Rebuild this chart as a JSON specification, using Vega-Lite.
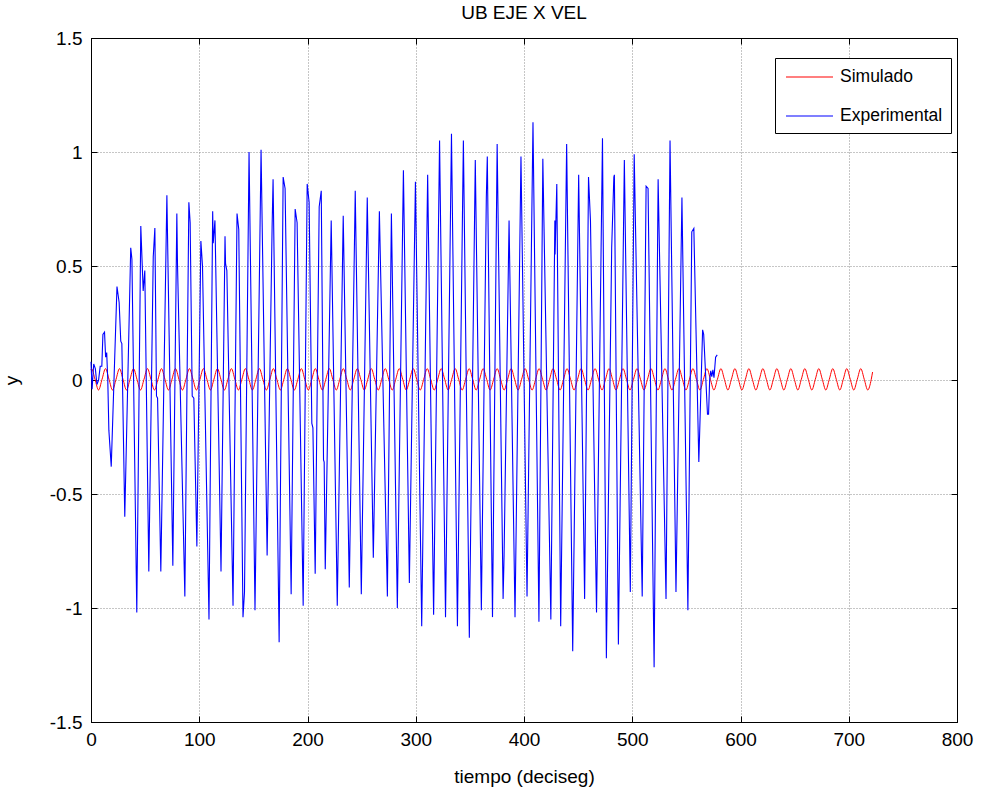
{
"$schema": "https://vega.github.io/schema/vega-lite/v6.json",
"width": 866, "height": 684,
"autosize": {"type": "none"},
"padding": {"left": 91, "top": 38, "right": 24, "bottom": 71},
"background": "white",
"title": {"text": "UB EJE X VEL", "fontSize": 19, "fontWeight": "normal", "font": "Liberation Sans", "color": "black", "offset": 6},
"config": {
  "view": {"stroke": "black", "strokeWidth": 1},
  "axis": {"labelFont": "Liberation Sans", "labelFontSize": 19, "labelColor": "black", "titleFont": "Liberation Sans", "titleFontSize": 19, "titleFontWeight": "normal", "titleColor": "black", "domainColor": "black", "tickColor": "black", "tickSize": -6, "gridColor": "#8c8c8c", "gridDash": [1, 2], "gridOpacity": 1, "gridWidth": 1},
  "legend": {"labelFont": "Liberation Sans", "labelFontSize": 17.5, "labelColor": "black"}
},
"datasets": {
"sim": [
{"t":0,"v":0.045},{"t":0.5,"v":0.05},{"t":3.73,"v":0.003},{"t":6.96,"v":-0.044},{"t":10.19,"v":0.003},
{"t":13.42,"v":0.05},{"t":16.65,"v":0.003},{"t":19.88,"v":-0.044},{"t":23.11,"v":0.003},
{"t":26.34,"v":0.05},{"t":29.57,"v":0.003},{"t":32.8,"v":-0.044},{"t":36.03,"v":0.003},
{"t":39.26,"v":0.05},{"t":42.49,"v":0.003},{"t":45.72,"v":-0.044},{"t":48.95,"v":0.003},
{"t":52.18,"v":0.05},{"t":55.41,"v":0.003},{"t":58.64,"v":-0.044},{"t":61.87,"v":0.003},
{"t":65.1,"v":0.05},{"t":68.33,"v":0.003},{"t":71.56,"v":-0.044},{"t":74.79,"v":0.003},
{"t":78.02,"v":0.05},{"t":81.25,"v":0.003},{"t":84.48,"v":-0.044},{"t":87.71,"v":0.003},
{"t":90.94,"v":0.05},{"t":94.17,"v":0.003},{"t":97.4,"v":-0.044},{"t":100.63,"v":0.003},
{"t":103.86,"v":0.05},{"t":107.09,"v":0.003},{"t":110.32,"v":-0.044},{"t":113.55,"v":0.003},
{"t":116.78,"v":0.05},{"t":120.01,"v":0.003},{"t":123.24,"v":-0.044},{"t":126.47,"v":0.003},
{"t":129.7,"v":0.05},{"t":132.93,"v":0.003},{"t":136.16,"v":-0.044},{"t":139.39,"v":0.003},
{"t":142.62,"v":0.05},{"t":145.85,"v":0.003},{"t":149.08,"v":-0.044},{"t":152.31,"v":0.003},
{"t":155.54,"v":0.05},{"t":158.77,"v":0.003},{"t":162.0,"v":-0.044},{"t":165.23,"v":0.003},
{"t":168.46,"v":0.05},{"t":171.69,"v":0.003},{"t":174.92,"v":-0.044},{"t":178.15,"v":0.003},
{"t":181.38,"v":0.05},{"t":184.61,"v":0.003},{"t":187.84,"v":-0.044},{"t":191.07,"v":0.003},
{"t":194.3,"v":0.05},{"t":197.53,"v":0.003},{"t":200.76,"v":-0.044},{"t":203.99,"v":0.003},
{"t":207.22,"v":0.05},{"t":210.45,"v":0.003},{"t":213.68,"v":-0.044},{"t":216.91,"v":0.003},
{"t":220.14,"v":0.05},{"t":223.37,"v":0.003},{"t":226.6,"v":-0.044},{"t":229.83,"v":0.003},
{"t":233.06,"v":0.05},{"t":236.29,"v":0.003},{"t":239.52,"v":-0.044},{"t":242.75,"v":0.003},
{"t":245.98,"v":0.05},{"t":249.21,"v":0.003},{"t":252.44,"v":-0.044},{"t":255.67,"v":0.003},
{"t":258.9,"v":0.05},{"t":262.13,"v":0.003},{"t":265.36,"v":-0.044},{"t":268.59,"v":0.003},
{"t":271.82,"v":0.05},{"t":275.05,"v":0.003},{"t":278.28,"v":-0.044},{"t":281.51,"v":0.003},
{"t":284.74,"v":0.05},{"t":287.97,"v":0.003},{"t":291.2,"v":-0.044},{"t":294.43,"v":0.003},
{"t":297.66,"v":0.05},{"t":300.89,"v":0.003},{"t":304.12,"v":-0.044},{"t":307.35,"v":0.003},
{"t":310.58,"v":0.05},{"t":313.81,"v":0.003},{"t":317.04,"v":-0.044},{"t":320.27,"v":0.003},
{"t":323.5,"v":0.05},{"t":326.73,"v":0.003},{"t":329.96,"v":-0.044},{"t":333.19,"v":0.003},
{"t":336.42,"v":0.05},{"t":339.65,"v":0.003},{"t":342.88,"v":-0.044},{"t":346.11,"v":0.003},
{"t":349.34,"v":0.05},{"t":352.57,"v":0.003},{"t":355.8,"v":-0.044},{"t":359.03,"v":0.003},
{"t":362.26,"v":0.05},{"t":365.49,"v":0.003},{"t":368.72,"v":-0.044},{"t":371.95,"v":0.003},
{"t":375.18,"v":0.05},{"t":378.41,"v":0.003},{"t":381.64,"v":-0.044},{"t":384.87,"v":0.003},
{"t":388.1,"v":0.05},{"t":391.33,"v":0.003},{"t":394.56,"v":-0.044},{"t":397.79,"v":0.003},
{"t":401.02,"v":0.05},{"t":404.25,"v":0.003},{"t":407.48,"v":-0.044},{"t":410.71,"v":0.003},
{"t":413.94,"v":0.05},{"t":417.17,"v":0.003},{"t":420.4,"v":-0.044},{"t":423.63,"v":0.003},
{"t":426.86,"v":0.05},{"t":430.09,"v":0.003},{"t":433.32,"v":-0.044},{"t":436.55,"v":0.003},
{"t":439.78,"v":0.05},{"t":443.01,"v":0.003},{"t":446.24,"v":-0.044},{"t":449.47,"v":0.003},
{"t":452.7,"v":0.05},{"t":455.93,"v":0.003},{"t":459.16,"v":-0.044},{"t":462.39,"v":0.003},
{"t":465.62,"v":0.05},{"t":468.85,"v":0.003},{"t":472.08,"v":-0.044},{"t":475.31,"v":0.003},
{"t":478.54,"v":0.05},{"t":481.77,"v":0.003},{"t":485.0,"v":-0.044},{"t":488.23,"v":0.003},
{"t":491.46,"v":0.05},{"t":494.69,"v":0.003},{"t":497.92,"v":-0.044},{"t":501.15,"v":0.003},
{"t":504.38,"v":0.05},{"t":507.61,"v":0.003},{"t":510.84,"v":-0.044},{"t":514.07,"v":0.003},
{"t":517.3,"v":0.05},{"t":520.53,"v":0.003},{"t":523.76,"v":-0.044},{"t":526.99,"v":0.003},
{"t":530.22,"v":0.05},{"t":533.45,"v":0.003},{"t":536.68,"v":-0.044},{"t":539.91,"v":0.003},
{"t":543.14,"v":0.05},{"t":546.37,"v":0.003},{"t":549.6,"v":-0.044},{"t":552.83,"v":0.003},
{"t":556.06,"v":0.05},{"t":559.29,"v":0.003},{"t":562.52,"v":-0.044},{"t":565.75,"v":0.003},
{"t":568.98,"v":0.05},{"t":572.21,"v":0.003},{"t":575.44,"v":-0.044},{"t":578.67,"v":0.003},
{"t":581.9,"v":0.05},{"t":585.13,"v":0.003},{"t":588.36,"v":-0.044},{"t":591.59,"v":0.003},
{"t":594.82,"v":0.05},{"t":598.05,"v":0.003},{"t":601.28,"v":-0.044},{"t":604.51,"v":0.003},
{"t":607.74,"v":0.05},{"t":610.97,"v":0.003},{"t":614.2,"v":-0.044},{"t":617.43,"v":0.003},
{"t":620.66,"v":0.05},{"t":623.89,"v":0.003},{"t":627.12,"v":-0.044},{"t":630.35,"v":0.003},
{"t":633.58,"v":0.05},{"t":636.81,"v":0.003},{"t":640.04,"v":-0.044},{"t":643.27,"v":0.003},
{"t":646.5,"v":0.05},{"t":649.73,"v":0.003},{"t":652.96,"v":-0.044},{"t":656.19,"v":0.003},
{"t":659.42,"v":0.05},{"t":662.65,"v":0.003},{"t":665.88,"v":-0.044},{"t":669.11,"v":0.003},
{"t":672.34,"v":0.05},{"t":675.57,"v":0.003},{"t":678.8,"v":-0.044},{"t":682.03,"v":0.003},
{"t":685.26,"v":0.05},{"t":688.49,"v":0.003},{"t":691.72,"v":-0.044},{"t":694.95,"v":0.003},
{"t":698.18,"v":0.05},{"t":701.41,"v":0.003},{"t":704.64,"v":-0.044},{"t":707.87,"v":0.003},
{"t":711.1,"v":0.05},{"t":714.33,"v":0.003},{"t":717.56,"v":-0.044},{"t":720.79,"v":0.003},
{"t":722,"v":0.035}
],
"exp": [
{"t":0,"v":0.08},{"t":1,"v":-0.04},{"t":2.5,"v":0.07},{"t":4,"v":0.05},{"t":5.5,"v":-0.02},{"t":7,"v":0.0},{"t":8.5,"v":0.06},{"t":10,"v":0.06},{"t":11,"v":0.2},{"t":12.5,"v":0.21},{"t":13.5,"v":0.1},{"t":14.5,"v":0.12},{"t":15.5,"v":0.0},{"t":16.5,"v":-0.22},{"t":18.7,"v":-0.38},
{"t":24,"v":0.41},{"t":26,"v":0.34},{"t":27.5,"v":0.17},{"t":28.5,"v":0.16},{"t":31.2,"v":-0.6},
{"t":36.7,"v":0.58},{"t":37.8,"v":0.53},{"t":42.3,"v":-1.02},
{"t":46,"v":0.675},{"t":48.2,"v":0.39},{"t":49.7,"v":0.48},{"t":53.4,"v":-0.84},
{"t":57.5,"v":0.54},{"t":59,"v":0.667},{"t":60.5,"v":-0.07},{"t":61.5,"v":-0.08},{"t":64.5,"v":-0.84},
{"t":70.1,"v":0.81},{"t":75.6,"v":-0.815},
{"t":79.3,"v":0.73},{"t":79.9,"v":0.51},{"t":86.7,"v":-0.95},
{"t":90.4,"v":0.78},{"t":91.6,"v":0.69},{"t":93.5,"v":-0.07},{"t":95,"v":-0.08},{"t":97.8,"v":-0.73},
{"t":101.5,"v":0.61},{"t":103,"v":0.5},{"t":109,"v":-1.05},
{"t":112.4,"v":0.74},{"t":112.9,"v":0.6},{"t":114.5,"v":0.7},{"t":120.1,"v":-0.84},
{"t":123.8,"v":0.63},{"t":124.3,"v":0.51},{"t":125.5,"v":0.48},{"t":131.2,"v":-0.99},
{"t":134.9,"v":0.73},{"t":136.5,"v":0.66},{"t":140.4,"v":-1.04},{"t":141.8,"v":-0.93},
{"t":146,"v":1.0},{"t":151.5,"v":-1.01},{"t":157.1,"v":1.01},{"t":162.7,"v":-0.77},
{"t":167.3,"v":0.67},{"t":168.2,"v":0.88},{"t":173.8,"v":-1.15},
{"t":177.5,"v":0.89},{"t":179.3,"v":0.84},{"t":184.9,"v":-0.94},
{"t":188.6,"v":0.75},{"t":190.4,"v":0.69},{"t":196,"v":-0.99},
{"t":199.7,"v":0.86},{"t":201.5,"v":0.78},{"t":204,"v":-0.19},{"t":205,"v":-0.21},{"t":207.1,"v":-0.85},
{"t":210.8,"v":0.76},{"t":212.7,"v":0.83},{"t":214.8,"v":-0.35},{"t":215.4,"v":-0.36},{"t":216.4,"v":-0.83},
{"t":221.9,"v":0.7},{"t":227.5,"v":-0.99},{"t":233,"v":0.72},{"t":238.6,"v":-0.91},
{"t":244.1,"v":0.83},{"t":249.7,"v":-0.94},{"t":255.2,"v":0.8},{"t":260.8,"v":-0.78},
{"t":266.4,"v":0.74},{"t":273.8,"v":-0.95},{"t":277.5,"v":0.73},{"t":283,"v":-1.0},
{"t":288.6,"v":0.92},{"t":294.1,"v":-0.89},{"t":299.7,"v":0.87},{"t":305.5,"v":-1.08},
{"t":311,"v":0.9},{"t":316.5,"v":-1.03},{"t":322,"v":1.05},{"t":327.5,"v":-1.04},
{"t":333,"v":1.08},{"t":338.5,"v":-1.08},{"t":344,"v":1.05},{"t":349.5,"v":-1.13},
{"t":355,"v":0.965},{"t":360.6,"v":-1.01},{"t":365.2,"v":0.8},{"t":366.1,"v":0.98},{"t":370.9,"v":-1.04},
{"t":375.2,"v":1.035},{"t":380.7,"v":-0.96},{"t":381.6,"v":-0.77},{"t":386.2,"v":0.7},{"t":391.7,"v":-1.04},
{"t":397.2,"v":0.98},{"t":402.8,"v":-0.95},{"t":408.3,"v":1.13},{"t":413.8,"v":-1.06},
{"t":417.4,"v":0.97},{"t":424.8,"v":-1.05},{"t":428.5,"v":0.7},{"t":428.7,"v":0.55},{"t":430.3,"v":0.86},{"t":433.9,"v":-1.08},
{"t":439.4,"v":1.035},{"t":445,"v":-1.19},{"t":450.5,"v":0.9},{"t":456,"v":-0.96},
{"t":459.6,"v":0.89},{"t":461.4,"v":0.7},{"t":467,"v":-1.02},{"t":472.5,"v":1.06},{"t":476.1,"v":-1.22},
{"t":481,"v":0.58},{"t":483,"v":0.89},{"t":483.5,"v":0.9},{"t":487.2,"v":-1.16},
{"t":492.7,"v":0.965},{"t":498.2,"v":-0.93},{"t":501.8,"v":0.99},{"t":509.2,"v":-0.95},
{"t":512.8,"v":0.85},{"t":514.6,"v":0.84},{"t":520.2,"v":-1.26},{"t":523.9,"v":0.88},{"t":531.2,"v":-0.96},
{"t":534.9,"v":1.05},{"t":540.4,"v":-0.93},{"t":545.9,"v":0.8},{"t":551.4,"v":-1.01},
{"t":555,"v":0.65},{"t":556.9,"v":0.665},{"t":561.5,"v":-0.36},{"t":565,"v":0.22},{"t":566,"v":0.2},
{"t":569.5,"v":-0.15},{"t":570.5,"v":-0.15},{"t":571.5,"v":0.0},{"t":572.5,"v":0.04},{"t":573.5,"v":0.015},{"t":574.5,"v":0.045},{"t":575.5,"v":0.01},{"t":577,"v":0.1},{"t":578.5,"v":0.11}
]
},
"layer": [
  {
    "data": {"name": "sim"},
    "mark": {"type": "line", "interpolate": "monotone", "strokeWidth": 1, "color": "#ff0000"},
    "encoding": {
      "x": {"field": "t", "type": "quantitative", "scale": {"domain": [0, 800], "nice": false, "zero": false},
            "axis": {"orient": "bottom", "values": [0,100,200,300,400,500,600,700,800], "labelExpr": "'' + datum.value", "title": "tiempo (deciseg)", "grid": true, "labelPadding": 14, "titlePadding": 18, "labelFlush": false}},
      "y": {"field": "v", "type": "quantitative", "scale": {"domain": [-1.5, 1.5], "nice": false},
            "axis": {"orient": "left", "values": [-1.5,-1,-0.5,0,0.5,1,1.5], "labelExpr": "'' + datum.value", "title": "y", "grid": true, "labelPadding": 15, "titlePadding": 28, "labelFlush": false}}
    }
  },
  {
    "data": {"name": "exp"},
    "mark": {"type": "line", "strokeWidth": 1.1, "color": "#0000ff"},
    "encoding": {
      "x": {"field": "t", "type": "quantitative", "axis": {"orient": "top", "values": [0,100,200,300,400,500,600,700,800], "labels": false, "title": null, "grid": false}},
      "y": {"field": "v", "type": "quantitative", "axis": {"orient": "right", "values": [-1.5,-1,-0.5,0,0.5,1,1.5], "labels": false, "title": null, "grid": false}}
    }
  },
  {
    "data": {"values": [{"s": "Simulado", "t": 0, "v": 0}, {"s": "Experimental", "t": 0, "v": 0}]},
    "mark": {"type": "line", "strokeWidth": 1},
    "encoding": {
      "x": {"field": "t", "type": "quantitative", "axis": null},
      "y": {"field": "v", "type": "quantitative", "axis": null},
      "color": {"field": "s", "type": "nominal",
                "scale": {"domain": ["Simulado", "Experimental"], "range": ["#ff0000", "#0000ff"]},
                "legend": {"title": null, "orient": "none", "legendX": 684, "legendY": 20, "fillColor": "white", "strokeColor": "black", "padding": 8, "symbolType": "M-0.8,0H3.9", "symbolSize": 400, "symbolStrokeWidth": 1.2, "rowPadding": 19, "labelOffset": 35,
                  "encode": {"symbols": {"update": {"stroke": {"signal": "datum.value === 'Simulado' ? '#ff0000' : '#0000ff'"}, "fill": {"value": "transparent"}, "strokeWidth": {"value": 1.2}, "opacity": {"value": 1}}}}}}
    }
  }
],
"resolve": {"axis": {"x": "independent", "y": "independent"}}
}
